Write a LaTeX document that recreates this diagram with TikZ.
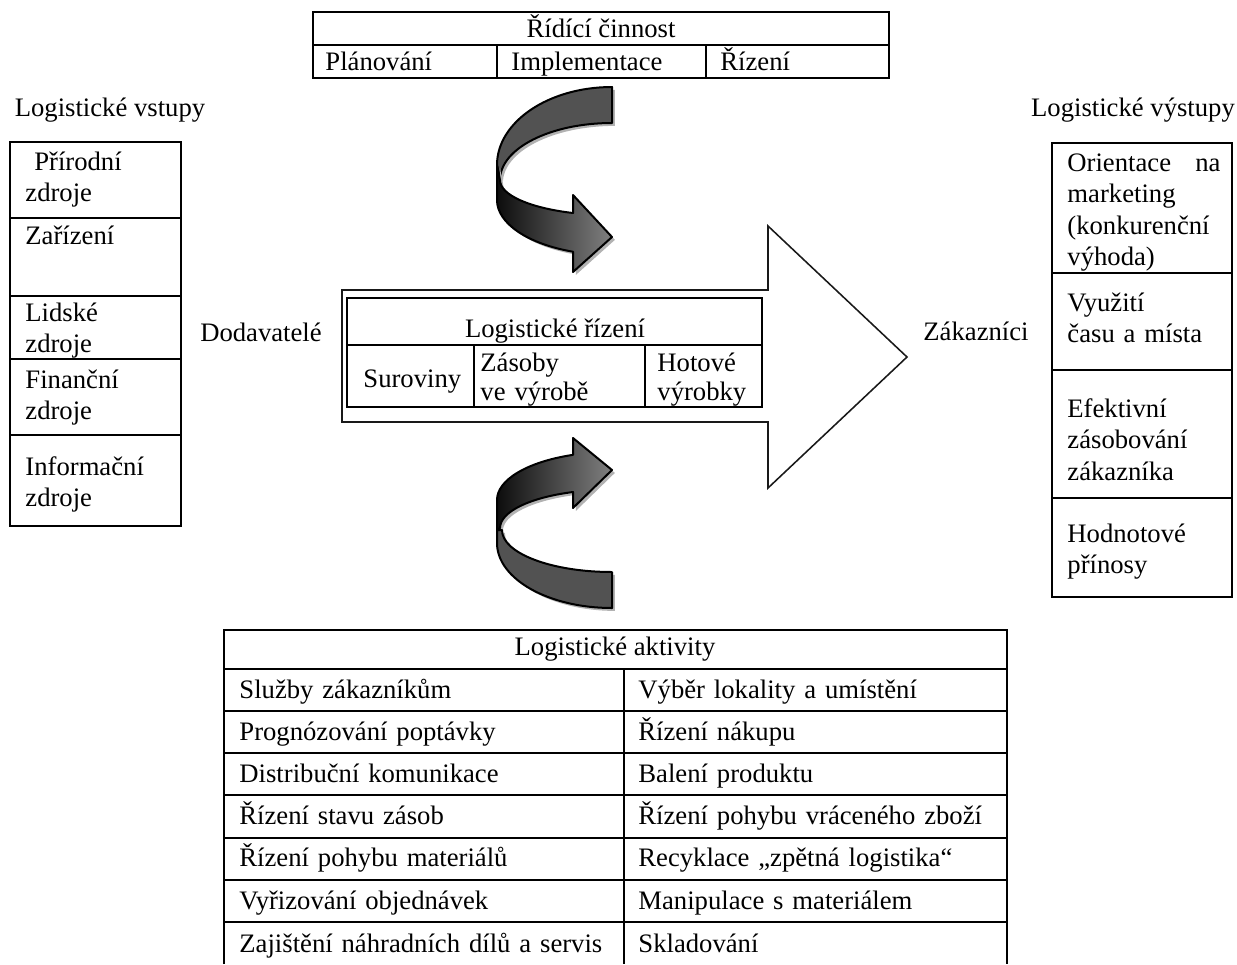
\documentclass[tikz,border=0pt]{standalone}
\usepackage{fontspec}
\setmainfont{Liberation Serif}
\usetikzlibrary{shadows}

\begin{document}
\begin{tikzpicture}[x=0.45pt,y=-0.45pt,font=\fontsize{12}{14.2}\selectfont]
\tikzstyle{every node}+=[inner sep=0pt]
\tikzstyle{txt}=[anchor=base west, align=left, text width=80pt]
\tikzstyle{box}=[black, line width=0.75pt]
\tikzstyle{ribbon}=[draw=black, line width=0.9pt, line join=round, drop shadow={shadow xshift=1.3pt, shadow yshift=-1.3pt, fill=black!30, opacity=1}]
\useasboundingbox (0,0) rectangle (1237,964);
\draw [box] (313,12) rectangle (889,78);
\draw [box] (313,45) -- (889,45);
\draw [box] (497,45) -- (497,78);
\draw [box] (706,45) -- (706,78);
\node [anchor=base] (ridici) at (601,37) {Řídící činnost};
\node [txt] (planovani) at (325,70) {Plánování};
\node [txt] (implementace) at (511,70) {Implementace};
\node [txt] (rizeni) at (720,70) {Řízení};
\node [anchor=base] (vstupy) at (110,116) {Logistické vstupy};
\node [anchor=base] (vystupy) at (1133,116) {Logistické výstupy};
\node [anchor=base] (dodavatele) at (261,341) {Dodavatelé};
\node [txt] (zakaznici) at (923,340) {Zákazníci};
\draw [box] (10,142) rectangle (181,526);
\draw [box] (10,218) -- (181,218);
\draw [box] (10,296) -- (181,296);
\draw [box] (10,359) -- (181,359);
\draw [box] (10,435) -- (181,435);
\node [txt] (prirodni) at (25,170) {\ Přírodní\\zdroje};
\node [txt] (zarizeni) at (25,244) {Zařízení};
\node [txt] (lidske) at (25,321) {Lidské\\zdroje};
\node [txt] (financni) at (25,388) {Finanční\\zdroje};
\node [txt] (informacni) at (25,475) {Informační\\zdroje};
\draw [box] (1052,143) rectangle (1232,597);
\draw [box] (1052,273) -- (1232,273);
\draw [box] (1052,370) -- (1232,370);
\draw [box] (1052,498) -- (1232,498);
\node [txt, text width=68.85pt] (orientace) at (1067,171) {Orientace\hfill na\\marketing\\(konkurenční\\výhoda)};
\node [txt] (vyuziti) at (1067,311) {Využití\\času a místa};
\node [txt] (efektivni) at (1067,417) {Efektivní\\zásobování\\zákazníka};
\node [txt] (hodnotove) at (1067,542) {Hodnotové\\přínosy};
\draw [black!90, line width=0.7pt] (342,290) -- (768,290) -- (768,226) -- (907,357) -- (768,488) -- (768,422) -- (342,422) -- cycle;
\draw [box] (347,298) rectangle (762,407);
\draw [box] (347,345) -- (762,345);
\draw [box] (474,345) -- (474,407);
\draw [box] (645,345) -- (645,407);
\node [anchor=base] (logrizeni) at (555,337) {Logistické řízení};
\node [txt] (suroviny) at (363,387) {Suroviny};
\node [txt, font=\fontsize{12}{13.1}\selectfont] (zasoby) at (480,371) {Zásoby\\ve výrobě};
\node [txt, font=\fontsize{12}{13.1}\selectfont] (hotove) at (657,371) {Hotové\\výrobky};
\draw [ribbon, fill=black!68] (612,87) arc [start angle=270, end angle=180, x radius=115, y radius=78] -- (500,180) arc [start angle=180, end angle=270, x radius=112, y radius=57] -- cycle;
\draw [ribbon, left color=black!95, right color=black!50] (497,165) -- (497,200) arc [start angle=180, end angle=109.8, x radius=115, y radius=55] -- (573,272) -- (612,237) -- (573,195) -- (573,213) arc [start angle=110.4, end angle=180, x radius=112, y radius=35] -- cycle;
\draw [ribbon, left color=black!95, right color=black!50] (497,530) -- (497,500) arc [start angle=180, end angle=250.2, x radius=115, y radius=48] -- (573,438) -- (612,470) -- (573,508) -- (573,492) arc [start angle=249.6, end angle=180, x radius=112, y radius=38.4] -- cycle;
\draw [ribbon, fill=black!68] (612,608) arc [start angle=90, end angle=180, x radius=115, y radius=65] -- (497,530) -- (502,530) arc [start angle=180, end angle=90, x radius=110, y radius=42] -- cycle;
\draw [box] (224,964) -- (224,630) -- (1007,630) -- (1007,964);
\draw [box] (224,669) -- (1007,669);
\draw [box] (224,711) -- (1007,711);
\draw [box] (224,753) -- (1007,753);
\draw [box] (224,795) -- (1007,795);
\draw [box] (224,838) -- (1007,838);
\draw [box] (224,880) -- (1007,880);
\draw [box] (224,922) -- (1007,922);
\draw [box] (624,669) -- (624,964);
\node [anchor=base] (aktivity) at (615,655) {Logistické aktivity};
\node [txt, text width=180pt] (sluzby) at (239,698) {Služby zákazníkům};
\node [txt, text width=180pt] (vyber) at (638,698) {Výběr lokality a umístění};
\node [txt, text width=180pt] (prognoza) at (239,740) {Prognózování poptávky};
\node [txt, text width=180pt] (nakup) at (638,740) {Řízení nákupu};
\node [txt, text width=180pt] (distribuce) at (239,782) {Distribuční komunikace};
\node [txt, text width=180pt] (baleni) at (638,782) {Balení produktu};
\node [txt, text width=180pt] (zasobystav) at (239,824) {Řízení stavu zásob};
\node [txt, text width=180pt] (vraceni) at (638,824) {Řízení pohybu vráceného zboží};
\node [txt, text width=180pt] (material) at (239,866) {Řízení pohybu materiálů};
\node [txt, text width=180pt] (recyklace) at (638,866) {Recyklace „zpětná logistika“};
\node [txt, text width=180pt] (objednavky) at (239,909) {Vyřizování objednávek};
\node [txt, text width=180pt] (manipulace) at (638,909) {Manipulace s materiálem};
\node [txt, text width=180pt] (dily) at (239,952) {Zajištění náhradních dílů a servis};
\node [txt, text width=180pt] (skladovani) at (638,952) {Skladování};
\end{tikzpicture}
\end{document}
